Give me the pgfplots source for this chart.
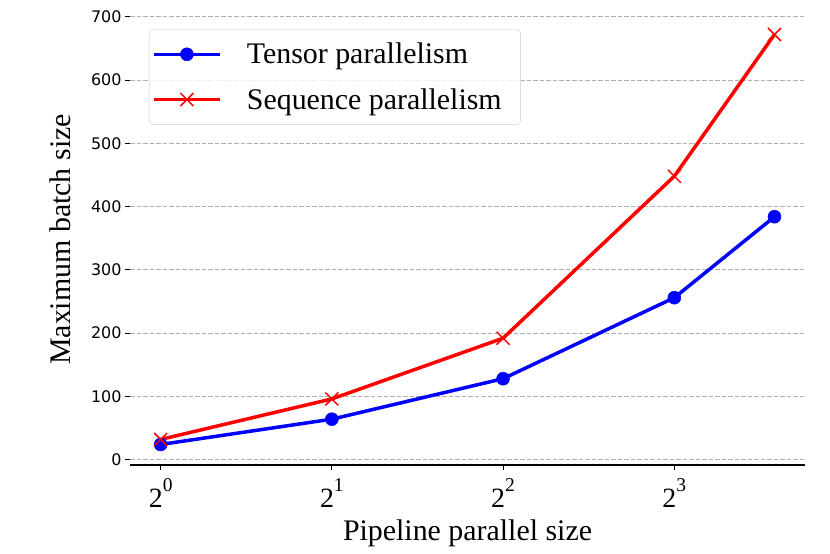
\documentclass[border=0pt]{standalone}
\usepackage{pgfplots}
\pgfplotsset{compat=1.18}
\usepackage{fontspec}
\setmainfont{Liberation Serif}
\newfontfamily\dejavu{DejaVu Sans}
\newcommand{\pw}[1]{2\raisebox{16bp}{\fontsize{19.6}{20}\selectfont #1}}
\begin{document}
\begin{tikzpicture}[x=1bp,y=1bp]
\path[use as bounding box] (0,0) rectangle (830,554);
\begin{axis}[
  at={(130bp,89bp)}, anchor=south west,
  scale only axis, width=675bp, height=451bp,
  xmode=log, log basis x=2,
  xmin=0.8833, xmax=13.58,
  ymin=-8.4, ymax=704.4,
  axis x line*=bottom, axis y line*=left,
  x axis line style={-, line width=1.5bp, black},
  y axis line style={draw=none},
  tick align=outside,
  major tick length=5bp,
  tick style={black, line width=1bp},
  xtick={1,2,4,8},
  xticklabels={\pw{0},\pw{1},\pw{2},\pw{3}},
  xminorticks=false, yminorticks=false,
  xticklabel style={font=\fontsize{28}{32}\selectfont, anchor=north, yshift=-5bp},
  ytick={0,100,...,700},
  /pgf/number format/assume math mode=true,
  yticklabel style={font=\fontsize{16}{19}\dejavu},
  ymajorgrids,
  major grid style={draw=black!31, line width=1bp, dash pattern=on 4.5bp off 2bp},
  xlabel={Pipeline parallel size},
  ylabel={Maximum batch size},
  label style={font=\fontsize{30}{36}\selectfont},
  xlabel style={at={(axis description cs:0.5,-0.152)}, anchor=center},
  ylabel style={at={(axis description cs:-0.104,0.5)}, anchor=center},
  legend style={at={(axis description cs:0.0281,0.9667)}, anchor=north west,
    draw=black!20, rounded corners=4bp, fill=white, fill opacity=0.8,
    text opacity=1, draw opacity=1, font=\fontsize{30}{36}\selectfont,
    inner xsep=3bp, inner ysep=12bp, row sep=19bp},
  legend cell align=left,
  legend image post style={fill opacity=1, draw opacity=1},
  legend image code/.code={\path[draw=none,fill=none] (0bp,0bp) -- (91bp,0bp);\draw[mark repeat=2,mark phase=2] plot coordinates {(0bp,0bp) (33bp,0bp) (66bp,0bp)};},
]
\addplot[blue, line width=3.5bp, mark=*, mark size=6.5bp, mark options={solid, fill=blue, draw=blue, line width=0.5bp}]
  coordinates {(1,24) (2,64) (4,128) (8,256) (12,384)};
\addlegendentry{Tensor parallelism\hspace*{14bp}}
\addplot[red, line width=3.5bp, mark=x, mark size=9.2bp, mark options={solid, line width=1.5bp}]
  coordinates {(1,32) (2,96) (4,192) (8,448) (12,672)};
\addlegendentry{Sequence parallelism\hspace*{14bp}}
\end{axis}
\end{tikzpicture}
\end{document}
